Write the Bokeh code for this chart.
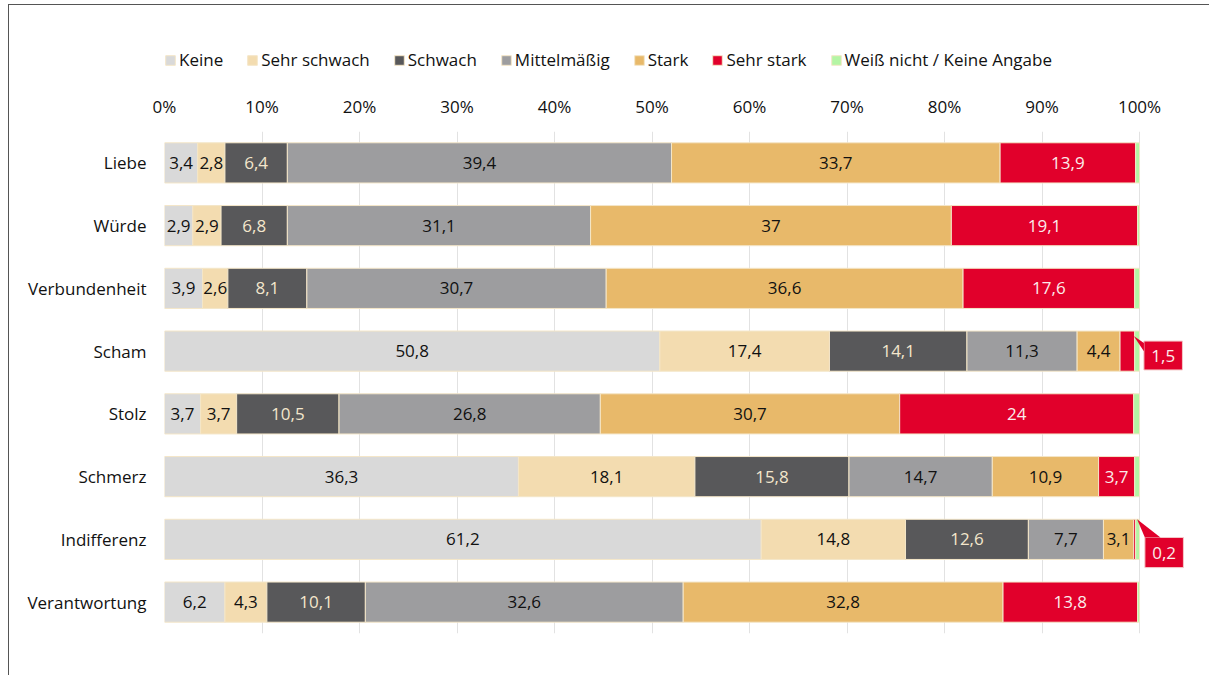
from bokeh.plotting import figure
from bokeh.layouts import column
from bokeh.models import (ColumnDataSource, Range1d, FixedTicker, Legend, LegendItem)
from bokeh.core.properties import value
from bokeh.embed import file_html
from bokeh.resources import INLINE

# ---------------- data ----------------
categories = ["Liebe", "Würde", "Verbundenheit", "Scham", "Stolz", "Schmerz",
              "Indifferenz", "Verantwortung"]
series_names = ["Keine", "Sehr schwach", "Schwach", "Mittelmäßig", "Stark",
                "Sehr stark", "Weiß nicht / Keine Angabe"]
keine        = [3.4, 2.9, 3.9, 50.8, 3.7, 36.3, 61.2, 6.2]
sehr_schwach = [2.8, 2.9, 2.6, 17.4, 3.7, 18.1, 14.8, 4.3]
schwach      = [6.4, 6.8, 8.1, 14.1, 10.5, 15.8, 12.6, 10.1]
mittel       = [39.4, 31.1, 30.7, 11.3, 26.8, 14.7, 7.7, 32.6]
stark        = [33.7, 37.0, 36.6, 4.4, 30.7, 10.9, 3.1, 32.8]
sehr_stark   = [13.9, 19.1, 17.6, 1.5, 24.0, 3.7, 0.2, 13.8]
weiss_nicht  = [0.4, 0.2, 0.5, 0.5, 0.6, 0.5, 0.4, 0.2]
x_ticks = [0, 10, 20, 30, 40, 50, 60, 70, 80, 90, 100]
# segments shown with a callout box instead of an inside label: (category, series index)
callouts = [("Scham", 5), ("Indifferenz", 5)]

series = [keine, sehr_schwach, schwach, mittel, stark, sehr_stark, weiss_nicht]
colors = ["#d9d9d9", "#f3dcb0", "#58585a", "#9d9d9f", "#e8b96a", "#e1002b", "#b4f5a4"]
text_colors = ["#111111", "#111111", "#f3e6cc", "#111111", "#111111", "#fbecea", None]
EDGE = "#f4e6c8"
FONT = "Open Sans"
FS = "17px"

keys = [f"s{i}" for i in range(len(series))]
data = {"y": list(range(len(categories)))}
for k, s in zip(keys, series):
    data[k] = s
src = ColumnDataSource(data)

# ---------------- main chart ----------------
p = figure(width=1200, height=590, output_backend="svg", toolbar_location=None,
           x_range=Range1d(0, 105.74), y_range=Range1d(len(categories) - 0.5, -0.5),
           x_axis_location="above", min_border_left=155, min_border_top=46,
           min_border_bottom=42, min_border_right=14)
p.outline_line_color = None

p.hbar_stack(keys, y="y", height=0.64, color=colors, source=src,
             line_color=EDGE, line_width=1)

# labels inside bars
lx, ly, lt, lc = [], [], [], []
callout_set = set(callouts)
for ci, cat in enumerate(categories):
    left = 0.0
    for si, s in enumerate(series):
        v = s[ci]
        if text_colors[si] is not None and (cat, si) not in callout_set:
            lx.append(left + v / 2)
            ly.append(ci)
            lt.append(f"{v:g}".replace(".", ","))
            lc.append(text_colors[si])
        left += v
lab_src = ColumnDataSource(dict(x=lx, y=ly, text=lt, color=lc))
p.text(x="x", y="y", text="text", text_color="color", source=lab_src,
       text_align="center", text_baseline="middle", text_font=value(FONT),
       text_font_size=FS)

# callouts
for cat, si in callouts:
    ci = categories.index(cat)
    end = sum(series[j][ci] for j in range(si + 1))
    bx0, bx1 = end + 0.95, end + 4.9
    if cat == "Scham":
        by0, by1 = ci - 0.16, ci + 0.30
        tip = (end - 0.1, ci - 0.24)
        wedge = [(bx0, by0 + 0.03), (bx0, by0 + 0.16)]
    else:
        by0, by1 = ci - 0.03, ci + 0.45
        tip = (end + 0.15, ci - 0.32)
        wedge = [(bx0, by0), (bx0 + 1.6, by0)]
    p.patch([bx0, bx1, bx1, bx0], [by0, by0, by1, by1], color=colors[si],
            line_color="#f4c8c8", line_width=1)
    p.patch([tip[0], wedge[0][0], wedge[1][0]], [tip[1], wedge[0][1], wedge[1][1]],
            color=colors[si], line_color=None)
    p.text(x=[(bx0 + bx1) / 2], y=[(by0 + by1) / 2],
           text=[f"{series[si][ci]:g}".replace(".", ",")], text_color=text_colors[si],
           text_align="center", text_baseline="middle", text_font=value(FONT),
           text_font_size=FS)

# axes
xa = p.xaxis[0]
xa.ticker = FixedTicker(ticks=x_ticks)
xa.major_label_overrides = {t: f"{t}%" for t in x_ticks}
xa.axis_line_color = None
xa.major_tick_line_color = None
xa.minor_tick_line_color = None
xa.major_label_standoff = 8
xa.major_label_text_font = FONT
xa.major_label_text_font_size = FS
xa.major_label_text_color = "#111111"

ya = p.yaxis[0]
ya.ticker = FixedTicker(ticks=list(range(len(categories))))
ya.major_label_overrides = {i: c for i, c in enumerate(categories)}
ya.axis_line_color = None
ya.major_tick_line_color = None
ya.minor_tick_line_color = None
ya.major_label_standoff = 12
ya.major_label_text_font = FONT
ya.major_label_text_font_size = FS
ya.major_label_text_color = "#111111"

p.xgrid.ticker = FixedTicker(ticks=x_ticks)
p.xgrid.grid_line_color = "#e2e2e2"
p.ygrid.grid_line_color = None

# ---------------- legend strip ----------------
lf = figure(width=1200, height=80, output_backend="svg", toolbar_location=None,
            x_range=Range1d(0, 1), y_range=Range1d(0, 1),
            x_axis_location=None, y_axis_location=None, min_border=0)
lf.outline_line_color = None
lf.grid.visible = False
items = []
nan = float("nan")
for name, c in zip(series_names, colors):
    r = lf.hbar(y=[nan], right=[nan], height=1, color=c, line_color=EDGE)
    items.append(LegendItem(label=name, renderers=[r]))
legend = Legend(items=items, orientation="horizontal", location=(0, 14),
                padding=0, margin=0, spacing=23, glyph_width=12, glyph_height=12,
                label_standoff=3, label_height=20, label_text_font=FONT,
                label_text_font_size=FS, label_text_color="#111111",
                background_fill_alpha=0, border_line_color=None)
lf.add_layout(legend, "center")

layout = column(lf, p, spacing=0)
layout.styles = {"border-left": "1px solid #555555", "border-top": "1px solid #555555",
                 "margin-left": "8px", "margin-top": "4px"}

open("out.html", "w").write(file_html(layout, INLINE))
